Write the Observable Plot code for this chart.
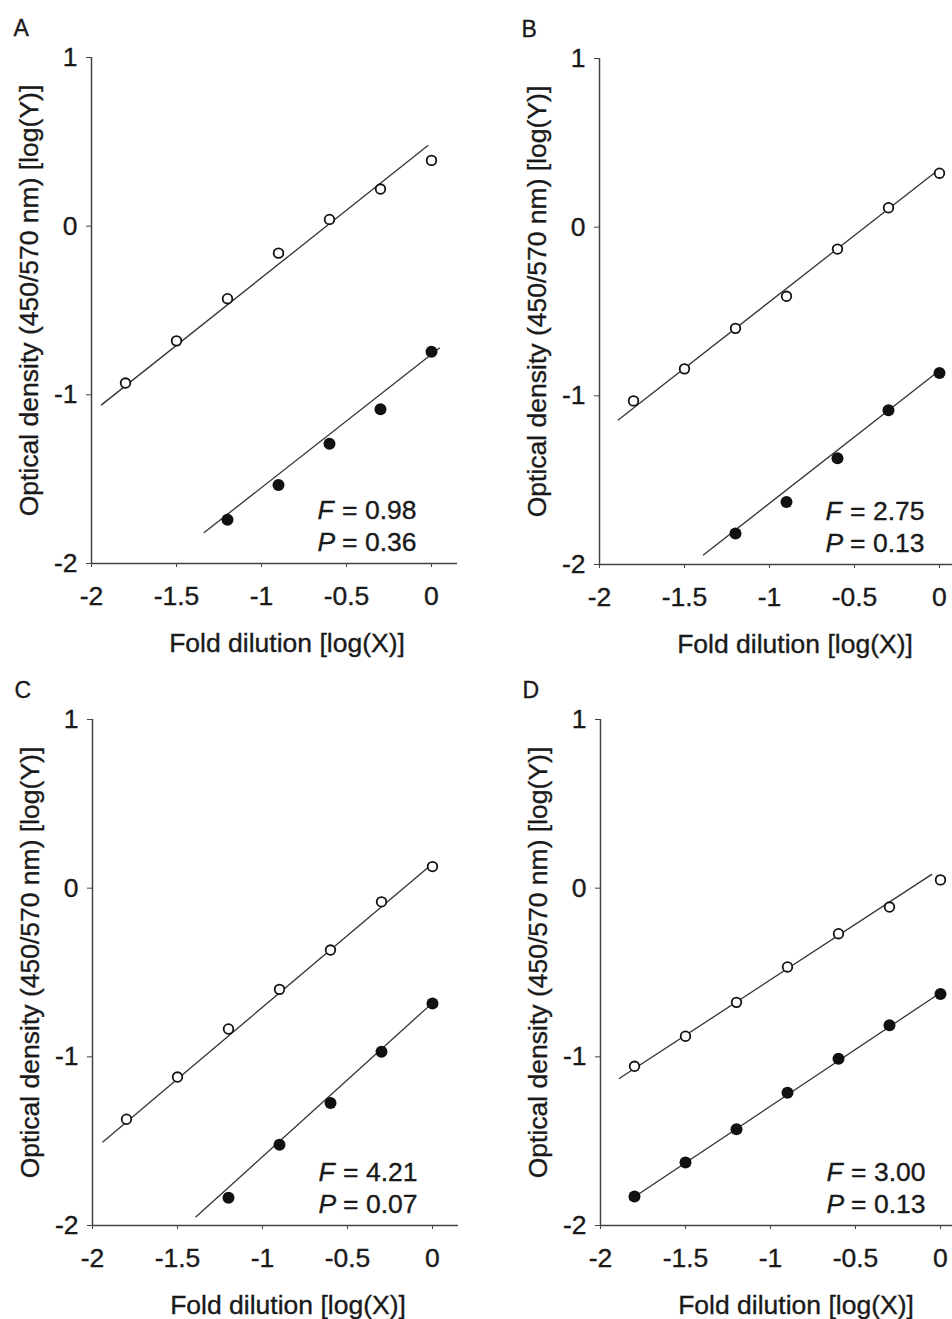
<!DOCTYPE html>
<html><head><meta charset="utf-8">
<script src="https://cdn.jsdelivr.net/npm/d3@7"></script>
<script src="https://cdn.jsdelivr.net/npm/@observablehq/plot@0.6"></script>
<style>
html,body{margin:0;padding:0;background:#fff;}
#wrap{position:relative;width:952px;height:1319px;overflow:hidden;background:#fff;}
#wrap svg{position:absolute;}
#wrap svg text{stroke:#1a1a1a;stroke-width:0.35px;}
</style></head><body><div id="wrap"></div>
<script>
// Shared x values (log fold dilution)
const dilution = [-1.8, -1.5, -1.2, -0.9, -0.6, -0.3, 0];
const xTicks = [-2, -1.5, -1, -0.5, 0];
const yTicks = [-2, -1, 0, 1];
const xLabel = "Fold dilution [log(X)]";
const yLabel = "Optical density (450/570 nm) [log(Y)]";
const panelLetters = ["A", "B", "C", "D"];

// Open circles (log OD)
const openA = [-0.93, -0.68, -0.43, -0.16, 0.04, 0.22, 0.39];
const openB = [-1.03, -0.84, -0.60, -0.41, -0.13, 0.115, 0.32];
const openC = [-1.37, -1.12, -0.835, -0.60, -0.367, -0.081, 0.128];
const openD = [-1.056, -0.878, -0.677, -0.467, -0.27, -0.112, 0.049];

// Filled circles (log OD); null = not measured
const filledA = [null, null, -1.74, -1.535, -1.29, -1.085, -0.745];
const filledB = [null, null, -1.816, -1.63, -1.37, -1.085, -0.865];
const filledC = [null, null, -1.836, -1.521, -1.274, -0.97, -0.684];
const filledD = [-1.828, -1.627, -1.43, -1.213, -1.012, -0.813, -0.627];

// Fitted lines: [x1, y1, x2, y2]
const fitOpenA = [-1.943, -1.061, -0.019, 0.48];
const fitFilledA = [-1.339, -1.818, 0.049, -0.721];
const fitOpenB = [-1.892, -1.145, 0.0, 0.345];
const fitFilledB = [-1.391, -1.945, 0.0, -0.85];
const fitOpenC = [-1.941, -1.507, 0.0, 0.145];
const fitFilledC = [-1.394, -1.951, 0.0, -0.68];
const fitOpenD = [-1.892, -1.13, -0.049, 0.083];
const fitFilledD = [-1.83, -1.85, 0.0, -0.62];

// Statistics
const statF = ["0.98", "2.75", "4.21", "3.00"];
const statP = ["0.36", "0.13", "0.07", "0.13"];

const xMax = 0.153;
const FONT = "'Liberation Sans', Arial, Helvetica, sans-serif";
const INK = "#1a1a1a";
const FS = 26.5;
const fmt = d => String(d);

function makePanel(i, openY, filledY, fitO, fitF, left, top) {
  const open = dilution.map((x, k) => ({x, y: openY[k]})).filter(d => d.y != null);
  const filled = dilution.map((x, k) => ({x, y: filledY[k]})).filter(d => d.y != null);
  const fits = [fitO, fitF].map(f => ({x1: f[0], y1: f[1], x2: f[2], y2: f[3]}));
  const txt = {fill: INK, fontSize: FS, text: d => d};
  const svg = Plot.plot({
    width: 476, height: 660,
    marginLeft: 91, marginRight: 19, marginTop: 57, marginBottom: 97,
    x: {domain: [-2, xMax]},
    y: {domain: [-2, 1]},
    style: {fontFamily: FONT, fontSize: FS + "px", color: INK, background: "transparent"},
    marks: [
      Plot.ruleX([-2], {y1: -2, y2: 1, stroke: "#444", strokeWidth: 1.5}),
      Plot.ruleY([-2], {x1: -2, x2: xMax, stroke: "#444", strokeWidth: 1.5}),
      Plot.axisX({ticks: xTicks, tickFormat: fmt, tickSize: 4, tickPadding: 19, fontSize: FS, label: null, stroke: "#444", fill: INK}),
      Plot.axisY({ticks: yTicks, tickFormat: fmt, tickSize: 5, tickPadding: 9, fontSize: FS, label: null, stroke: "#444", fill: INK}),
      Plot.link(fits, {x1: "x1", y1: "y1", x2: "x2", y2: "y2", stroke: "#333", strokeWidth: 1.3}),
      Plot.dot(open, {x: "x", y: "y", r: 4.8, stroke: "#111", strokeWidth: 1.8, fill: "white"}),
      Plot.dot(filled, {x: "x", y: "y", r: 6, fill: "#111"}),
      // panel letter
      Plot.text([panelLetters[i]], {...txt, fontSize: 23, frameAnchor: "top-left", textAnchor: "start", lineAnchor: "bottom", dx: -78, dy: -22}),
      // axis titles
      Plot.text([yLabel], {...txt, frameAnchor: "left", rotate: -90, textAnchor: "middle", lineAnchor: "bottom", dx: -53.5, dy: -10}),
      Plot.text([xLabel], {...txt, frameAnchor: "bottom", textAnchor: "middle", lineAnchor: "bottom", dx: 12.5, dy: 88.7}),
      // statistics
      Plot.text(["F"], {...txt, fontStyle: "italic", frameAnchor: "bottom-left", textAnchor: "start", lineAnchor: "bottom", dx: 226, dy: -44.5}),
      Plot.text(["= " + statF[i]], {...txt, frameAnchor: "bottom-left", textAnchor: "end", lineAnchor: "bottom", dx: 325, dy: -44.5}),
      Plot.text(["P"], {...txt, fontStyle: "italic", frameAnchor: "bottom-left", textAnchor: "start", lineAnchor: "bottom", dx: 226, dy: -13}),
      Plot.text(["= " + statP[i]], {...txt, frameAnchor: "bottom-left", textAnchor: "end", lineAnchor: "bottom", dx: 325, dy: -13})
    ]
  });
  svg.style.left = left + "px";
  svg.style.top = top + "px";
  document.getElementById("wrap").appendChild(svg);
}

makePanel(0, openA, filledA, fitOpenA, fitFilledA, 0, 0);
makePanel(1, openB, filledB, fitOpenB, fitFilledB, 508, 1);
makePanel(2, openC, filledC, fitOpenC, fitFilledC, 1, 662);
makePanel(3, openD, filledD, fitOpenD, fitFilledD, 509, 662);
</script></body></html>
